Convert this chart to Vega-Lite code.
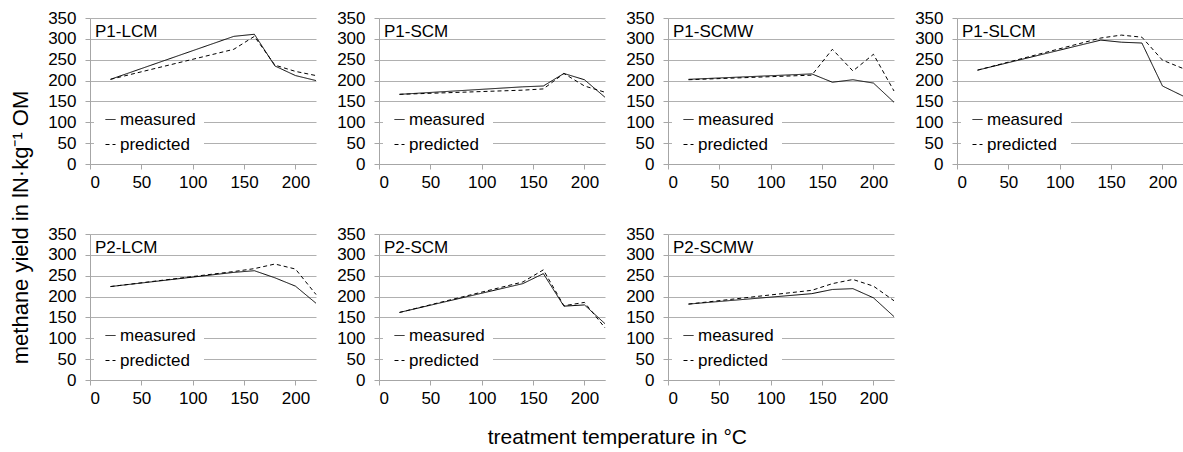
{
"$schema": "https://vega.github.io/schema/vega-lite/v6.json",
"padding": {"left": 9, "top": 9, "right": 0, "bottom": 0},
"background": "white",
"config": {
  "font": "Liberation Sans",
  "view": {"stroke": null},
  "axis": {"labelFont": "Liberation Sans", "labelFontSize": 17, "labelColor": "black", "domainColor": "#a6a6a6", "tickColor": "#a6a6a6", "gridColor": "#b0b0b0", "tickSize": 5, "title": null},
  "axisX": {"labelPadding": 5, "grid": false},
  "axisY": {"labelPadding": 9, "grid": true},
  "title": {"font": "Liberation Sans", "fontSize": 17, "fontWeight": "normal", "color": "black"},
  "legend": {"labelFont": "Liberation Sans", "labelFontSize": 17, "labelColor": "black"}
},
"data": {"values": [
{"panel":"P1-LCM","series":"measured","T":20,"y":203},{"panel":"P1-LCM","series":"measured","T":140,"y":306},{"panel":"P1-LCM","series":"measured","T":160,"y":311},{"panel":"P1-LCM","series":"measured","T":180,"y":235},{"panel":"P1-LCM","series":"measured","T":200,"y":212},{"panel":"P1-LCM","series":"measured","T":220,"y":200},
{"panel":"P1-LCM","series":"predicted","T":20,"y":203},{"panel":"P1-LCM","series":"predicted","T":140,"y":275},{"panel":"P1-LCM","series":"predicted","T":160,"y":306},{"panel":"P1-LCM","series":"predicted","T":180,"y":237},{"panel":"P1-LCM","series":"predicted","T":200,"y":222},{"panel":"P1-LCM","series":"predicted","T":220,"y":212},
{"panel":"P1-SCM","series":"measured","T":20,"y":167},{"panel":"P1-SCM","series":"measured","T":140,"y":185},{"panel":"P1-SCM","series":"measured","T":160,"y":187},{"panel":"P1-SCM","series":"measured","T":180,"y":217},{"panel":"P1-SCM","series":"measured","T":200,"y":202},{"panel":"P1-SCM","series":"measured","T":220,"y":160},
{"panel":"P1-SCM","series":"predicted","T":20,"y":167},{"panel":"P1-SCM","series":"predicted","T":140,"y":177},{"panel":"P1-SCM","series":"predicted","T":160,"y":180},{"panel":"P1-SCM","series":"predicted","T":180,"y":217},{"panel":"P1-SCM","series":"predicted","T":200,"y":187},{"panel":"P1-SCM","series":"predicted","T":220,"y":172},
{"panel":"P1-SCMW","series":"measured","T":20,"y":203},{"panel":"P1-SCMW","series":"measured","T":140,"y":216},{"panel":"P1-SCMW","series":"measured","T":160,"y":196},{"panel":"P1-SCMW","series":"measured","T":180,"y":202},{"panel":"P1-SCMW","series":"measured","T":200,"y":194},{"panel":"P1-SCMW","series":"measured","T":220,"y":148},
{"panel":"P1-SCMW","series":"predicted","T":20,"y":202},{"panel":"P1-SCMW","series":"predicted","T":140,"y":213},{"panel":"P1-SCMW","series":"predicted","T":160,"y":275},{"panel":"P1-SCMW","series":"predicted","T":180,"y":223},{"panel":"P1-SCMW","series":"predicted","T":200,"y":263},{"panel":"P1-SCMW","series":"predicted","T":220,"y":175},
{"panel":"P1-SLCM","series":"measured","T":20,"y":225},{"panel":"P1-SLCM","series":"measured","T":140,"y":297},{"panel":"P1-SLCM","series":"measured","T":160,"y":292},{"panel":"P1-SLCM","series":"measured","T":180,"y":290},{"panel":"P1-SLCM","series":"measured","T":200,"y":187},{"panel":"P1-SLCM","series":"measured","T":220,"y":163},
{"panel":"P1-SLCM","series":"predicted","T":20,"y":225},{"panel":"P1-SLCM","series":"predicted","T":140,"y":302},{"panel":"P1-SLCM","series":"predicted","T":160,"y":309},{"panel":"P1-SLCM","series":"predicted","T":180,"y":304},{"panel":"P1-SLCM","series":"predicted","T":200,"y":249},{"panel":"P1-SLCM","series":"predicted","T":220,"y":229},
{"panel":"P2-LCM","series":"measured","T":20,"y":224},{"panel":"P2-LCM","series":"measured","T":140,"y":258},{"panel":"P2-LCM","series":"measured","T":160,"y":262},{"panel":"P2-LCM","series":"measured","T":180,"y":245},{"panel":"P2-LCM","series":"measured","T":200,"y":225},{"panel":"P2-LCM","series":"measured","T":220,"y":184},
{"panel":"P2-LCM","series":"predicted","T":20,"y":224},{"panel":"P2-LCM","series":"predicted","T":140,"y":260},{"panel":"P2-LCM","series":"predicted","T":160,"y":267},{"panel":"P2-LCM","series":"predicted","T":180,"y":278},{"panel":"P2-LCM","series":"predicted","T":200,"y":266},{"panel":"P2-LCM","series":"predicted","T":220,"y":205},
{"panel":"P2-SCM","series":"measured","T":20,"y":162},{"panel":"P2-SCM","series":"measured","T":140,"y":231},{"panel":"P2-SCM","series":"measured","T":160,"y":255},{"panel":"P2-SCM","series":"measured","T":180,"y":177},{"panel":"P2-SCM","series":"measured","T":200,"y":180},{"panel":"P2-SCM","series":"measured","T":220,"y":135},
{"panel":"P2-SCM","series":"predicted","T":20,"y":162},{"panel":"P2-SCM","series":"predicted","T":140,"y":235},{"panel":"P2-SCM","series":"predicted","T":160,"y":264},{"panel":"P2-SCM","series":"predicted","T":180,"y":178},{"panel":"P2-SCM","series":"predicted","T":200,"y":186},{"panel":"P2-SCM","series":"predicted","T":220,"y":125},
{"panel":"P2-SCMW","series":"measured","T":20,"y":182},{"panel":"P2-SCMW","series":"measured","T":140,"y":207},{"panel":"P2-SCMW","series":"measured","T":160,"y":217},{"panel":"P2-SCMW","series":"measured","T":180,"y":219},{"panel":"P2-SCMW","series":"measured","T":200,"y":197},{"panel":"P2-SCMW","series":"measured","T":220,"y":152},
{"panel":"P2-SCMW","series":"predicted","T":20,"y":182},{"panel":"P2-SCMW","series":"predicted","T":140,"y":215},{"panel":"P2-SCMW","series":"predicted","T":160,"y":231},{"panel":"P2-SCMW","series":"predicted","T":180,"y":241},{"panel":"P2-SCMW","series":"predicted","T":200,"y":225},{"panel":"P2-SCMW","series":"predicted","T":220,"y":190}
]},
"title": {"text": "treatment temperature in °C", "orient": "bottom", "fontSize": 21, "offset": 21, "anchor": "middle", "dx": 20},
"resolve": {"scale": {"strokeDash": "independent"}, "legend": {"strokeDash": "independent"}},
"vconcat": [{
  "title": {"text": "methane yield in lN·kg⁻¹ OM", "orient": "left", "fontSize": 22, "offset": 15, "anchor": "middle", "dx": -20},
  "spacing": 35,
  "resolve": {"scale": {"strokeDash": "independent"}, "legend": {"strokeDash": "independent"}},
  "vconcat": [
   {"spacing": 18,
    "resolve": {"scale": {"strokeDash": "independent"}, "legend": {"strokeDash": "independent"}},
    "hconcat": [
     {"width": 226, "height": 146, "title": {"text": "P1-LCM", "anchor": "start", "frame": "group", "offset": -32, "dx": 5},
      "transform": [{"filter": "datum.panel === 'P1-LCM'"}],
      "mark": {"type": "line", "color": "black", "strokeWidth": 1},
      "encoding": {
        "x": {"field": "T", "type": "quantitative", "scale": {"domain": [0, 220], "nice": false}, "axis": {"values": [0, 50, 100, 150, 200]}},
        "y": {"field": "y", "type": "quantitative", "scale": {"domain": [0, 350], "nice": false}, "axis": {"values": [0, 50, 100, 150, 200, 250, 300, 350]}},
        "strokeDash": {"field": "series", "type": "nominal", "scale": {"domain": ["measured", "predicted"], "range": [[1, 0], [4, 3]]},
          "legend": {"title": null, "orient": "none", "legendX": 4, "legendY": 85, "direction": "vertical", "fillColor": "white", "padding": 8, "symbolType": "stroke", "symbolSize": 100, "symbolStrokeWidth": 1, "symbolStrokeColor": "black", "labelOffset": 1, "rowPadding": 7}}
      }},
     {"width": 226, "height": 146, "title": {"text": "P1-SCM", "anchor": "start", "frame": "group", "offset": -32, "dx": 5},
      "transform": [{"filter": "datum.panel === 'P1-SCM'"}],
      "mark": {"type": "line", "color": "black", "strokeWidth": 1},
      "encoding": {
        "x": {"field": "T", "type": "quantitative", "scale": {"domain": [0, 220], "nice": false}, "axis": {"values": [0, 50, 100, 150, 200]}},
        "y": {"field": "y", "type": "quantitative", "scale": {"domain": [0, 350], "nice": false}, "axis": {"values": [0, 50, 100, 150, 200, 250, 300, 350]}},
        "strokeDash": {"field": "series", "type": "nominal", "scale": {"domain": ["measured", "predicted"], "range": [[1, 0], [4, 3]]},
          "legend": {"title": null, "orient": "none", "legendX": 4, "legendY": 85, "direction": "vertical", "fillColor": "white", "padding": 8, "symbolType": "stroke", "symbolSize": 100, "symbolStrokeWidth": 1, "symbolStrokeColor": "black", "labelOffset": 1, "rowPadding": 7}}
      }},
     {"width": 226, "height": 146, "title": {"text": "P1-SCMW", "anchor": "start", "frame": "group", "offset": -32, "dx": 5},
      "transform": [{"filter": "datum.panel === 'P1-SCMW'"}],
      "mark": {"type": "line", "color": "black", "strokeWidth": 1},
      "encoding": {
        "x": {"field": "T", "type": "quantitative", "scale": {"domain": [0, 220], "nice": false}, "axis": {"values": [0, 50, 100, 150, 200]}},
        "y": {"field": "y", "type": "quantitative", "scale": {"domain": [0, 350], "nice": false}, "axis": {"values": [0, 50, 100, 150, 200, 250, 300, 350]}},
        "strokeDash": {"field": "series", "type": "nominal", "scale": {"domain": ["measured", "predicted"], "range": [[1, 0], [4, 3]]},
          "legend": {"title": null, "orient": "none", "legendX": 4, "legendY": 85, "direction": "vertical", "fillColor": "white", "padding": 8, "symbolType": "stroke", "symbolSize": 100, "symbolStrokeWidth": 1, "symbolStrokeColor": "black", "labelOffset": 1, "rowPadding": 7}}
      }},
     {"width": 226, "height": 146, "title": {"text": "P1-SLCM", "anchor": "start", "frame": "group", "offset": -32, "dx": 5},
      "transform": [{"filter": "datum.panel === 'P1-SLCM'"}],
      "mark": {"type": "line", "color": "black", "strokeWidth": 1},
      "encoding": {
        "x": {"field": "T", "type": "quantitative", "scale": {"domain": [0, 220], "nice": false}, "axis": {"values": [0, 50, 100, 150, 200]}},
        "y": {"field": "y", "type": "quantitative", "scale": {"domain": [0, 350], "nice": false}, "axis": {"values": [0, 50, 100, 150, 200, 250, 300, 350]}},
        "strokeDash": {"field": "series", "type": "nominal", "scale": {"domain": ["measured", "predicted"], "range": [[1, 0], [4, 3]]},
          "legend": {"title": null, "orient": "none", "legendX": 4, "legendY": 85, "direction": "vertical", "fillColor": "white", "padding": 8, "symbolType": "stroke", "symbolSize": 100, "symbolStrokeWidth": 1, "symbolStrokeColor": "black", "labelOffset": 1, "rowPadding": 7}}
      }}
    ]},
   {"spacing": 18,
    "resolve": {"scale": {"strokeDash": "independent"}, "legend": {"strokeDash": "independent"}},
    "hconcat": [
     {"width": 226, "height": 146, "title": {"text": "P2-LCM", "anchor": "start", "frame": "group", "offset": -32, "dx": 5},
      "transform": [{"filter": "datum.panel === 'P2-LCM'"}],
      "mark": {"type": "line", "color": "black", "strokeWidth": 1},
      "encoding": {
        "x": {"field": "T", "type": "quantitative", "scale": {"domain": [0, 220], "nice": false}, "axis": {"values": [0, 50, 100, 150, 200]}},
        "y": {"field": "y", "type": "quantitative", "scale": {"domain": [0, 350], "nice": false}, "axis": {"values": [0, 50, 100, 150, 200, 250, 300, 350]}},
        "strokeDash": {"field": "series", "type": "nominal", "scale": {"domain": ["measured", "predicted"], "range": [[1, 0], [4, 3]]},
          "legend": {"title": null, "orient": "none", "legendX": 4, "legendY": 85, "direction": "vertical", "fillColor": "white", "padding": 8, "symbolType": "stroke", "symbolSize": 100, "symbolStrokeWidth": 1, "symbolStrokeColor": "black", "labelOffset": 1, "rowPadding": 7}}
      }},
     {"width": 226, "height": 146, "title": {"text": "P2-SCM", "anchor": "start", "frame": "group", "offset": -32, "dx": 5},
      "transform": [{"filter": "datum.panel === 'P2-SCM'"}],
      "mark": {"type": "line", "color": "black", "strokeWidth": 1},
      "encoding": {
        "x": {"field": "T", "type": "quantitative", "scale": {"domain": [0, 220], "nice": false}, "axis": {"values": [0, 50, 100, 150, 200]}},
        "y": {"field": "y", "type": "quantitative", "scale": {"domain": [0, 350], "nice": false}, "axis": {"values": [0, 50, 100, 150, 200, 250, 300, 350]}},
        "strokeDash": {"field": "series", "type": "nominal", "scale": {"domain": ["measured", "predicted"], "range": [[1, 0], [4, 3]]},
          "legend": {"title": null, "orient": "none", "legendX": 4, "legendY": 85, "direction": "vertical", "fillColor": "white", "padding": 8, "symbolType": "stroke", "symbolSize": 100, "symbolStrokeWidth": 1, "symbolStrokeColor": "black", "labelOffset": 1, "rowPadding": 7}}
      }},
     {"width": 226, "height": 146, "title": {"text": "P2-SCMW", "anchor": "start", "frame": "group", "offset": -32, "dx": 5},
      "transform": [{"filter": "datum.panel === 'P2-SCMW'"}],
      "mark": {"type": "line", "color": "black", "strokeWidth": 1},
      "encoding": {
        "x": {"field": "T", "type": "quantitative", "scale": {"domain": [0, 220], "nice": false}, "axis": {"values": [0, 50, 100, 150, 200]}},
        "y": {"field": "y", "type": "quantitative", "scale": {"domain": [0, 350], "nice": false}, "axis": {"values": [0, 50, 100, 150, 200, 250, 300, 350]}},
        "strokeDash": {"field": "series", "type": "nominal", "scale": {"domain": ["measured", "predicted"], "range": [[1, 0], [4, 3]]},
          "legend": {"title": null, "orient": "none", "legendX": 4, "legendY": 85, "direction": "vertical", "fillColor": "white", "padding": 8, "symbolType": "stroke", "symbolSize": 100, "symbolStrokeWidth": 1, "symbolStrokeColor": "black", "labelOffset": 1, "rowPadding": 7}}
      }}
    ]}
  ]
}]
}
